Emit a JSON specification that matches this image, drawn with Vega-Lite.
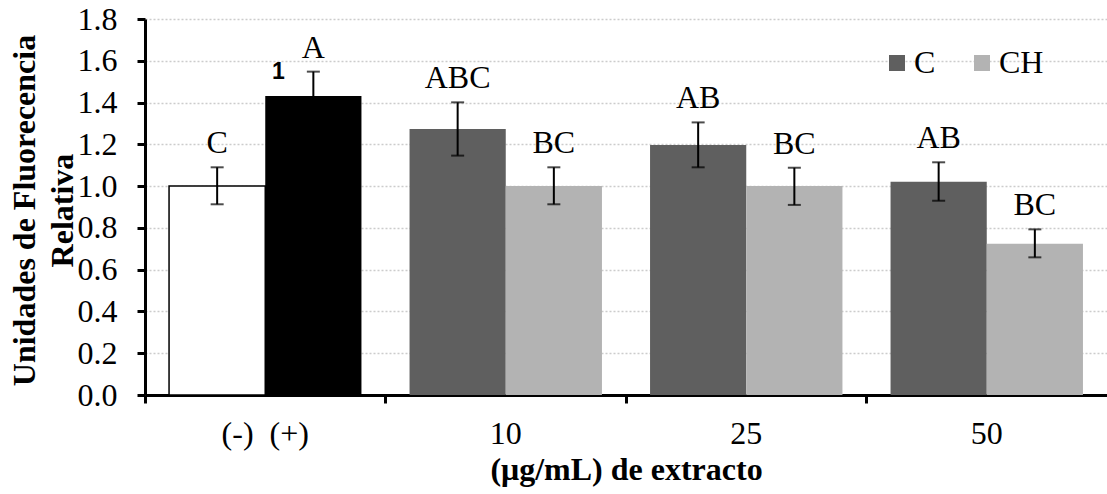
{
  "$schema": "https://vega.github.io/schema/vega-lite/v6.json",
  "width": 962,
  "height": 376,
  "autosize": "none",
  "padding": {"left": 145, "top": 19, "right": 0, "bottom": 99},
  "background": "white",
  "config": {
    "view": {"stroke": null},
    "font": "Liberation Serif",
    "axis": {"labelFont": "Liberation Serif", "titleFont": "Liberation Serif", "labelColor": "black", "titleColor": "black"}
  },
  "data": {
    "values": [
      {"dosis": "(-)\u00a0\u00a0(+)", "pos": "L", "grupo": "(-)", "valor": 1.0, "lo": 0.913, "hi": 1.09, "letra": "C", "nota": ""},
      {"dosis": "(-)\u00a0\u00a0(+)", "pos": "R", "grupo": "(+)", "valor": 1.431, "lo": 1.325, "hi": 1.548, "letra": "A", "nota": "1"},
      {"dosis": "10", "pos": "L", "grupo": "C", "valor": 1.273, "lo": 1.146, "hi": 1.401, "letra": "ABC", "nota": ""},
      {"dosis": "10", "pos": "R", "grupo": "CH", "valor": 1.0, "lo": 0.913, "hi": 1.09, "letra": "BC", "nota": ""},
      {"dosis": "25", "pos": "L", "grupo": "C", "valor": 1.197, "lo": 1.09, "hi": 1.305, "letra": "AB", "nota": ""},
      {"dosis": "25", "pos": "R", "grupo": "CH", "valor": 1.0, "lo": 0.91, "hi": 1.088, "letra": "BC", "nota": ""},
      {"dosis": "50", "pos": "L", "grupo": "C", "valor": 1.021, "lo": 0.93, "hi": 1.114, "letra": "AB", "nota": ""},
      {"dosis": "50", "pos": "R", "grupo": "CH", "valor": 0.724, "lo": 0.659, "hi": 0.793, "letra": "BC", "nota": ""}
    ]
  },
  "encoding": {
    "x": {
      "field": "dosis", "type": "nominal", "sort": null,
      "scale": {"paddingInner": 0, "paddingOuter": 0},
      "axis": {
        "title": "(μg/mL) de extracto",
        "titleFontSize": 32, "titleFontWeight": "bold",
        "titleBaseline": "alphabetic", "titleY": 84,
        "labelAngle": 0, "labelFontSize": 32, "labelBaseline": "alphabetic",
        "labelPadding": 40, "tickSize": 8, "tickWidth": 3, "tickColor": "black",
        "bandPosition": 0, "domainColor": "black", "domainWidth": 3, "grid": false
      }
    },
    "xOffset": {"field": "pos", "type": "nominal", "scale": {"paddingInner": 0, "paddingOuter": 0.25}}
  },
  "layer": [
    {
      "mark": {"type": "bar", "stroke": "black"},
      "encoding": {
        "y": {
          "field": "valor", "type": "quantitative",
          "scale": {"domain": [0, 1.8], "nice": false},
          "axis": {
            "title": ["Unidades de Fluorecencia", "Relativa"],
            "titleFontSize": 32, "titleFontWeight": "bold", "titleLineHeight": 38,
            "titleBaseline": "alphabetic", "titleX": -111, "titleY": 191, "titleAngle": -90,
            "values": [0, 0.2, 0.4, 0.6, 0.8, 1.0, 1.2, 1.4, 1.6, 1.8],
            "format": ".1f", "labelFontSize": 32, "labelPadding": 20,
            "tickSize": 8, "tickWidth": 3, "tickColor": "black",
            "domainColor": "black", "domainWidth": 3,
            "grid": true, "gridColor": "#cccccc", "gridDash": [2, 2], "gridWidth": 1.5
          }
        },
        "color": {
          "field": "grupo", "type": "nominal",
          "scale": {"domain": ["(-)", "(+)", "C", "CH"], "range": ["#ffffff", "#000000", "#5f5f5f", "#b3b3b3"]},
          "legend": {
            "values": ["C", "CH"], "title": null, "orient": "none", "direction": "horizontal",
            "legendX": 736, "legendY": 28, "padding": 0,
            "symbolType": "square", "symbolSize": 256, "symbolStrokeWidth": 0,
            "labelFont": "Liberation Serif", "labelFontSize": 32, "labelOffset": 1, "columnPadding": 30
          }
        },
        "strokeWidth": {"condition": {"test": "datum.grupo === '(-)'", "value": 1.5}, "value": 0}
      }
    },
    {
      "mark": {"type": "rule", "color": "black", "strokeWidth": 2},
      "encoding": {
        "y": {"field": "lo", "type": "quantitative"},
        "y2": {"field": "hi"}
      }
    },
    {
      "mark": {"type": "tick", "color": "black", "thickness": 2, "size": 13, "orient": "horizontal"},
      "encoding": {"y": {"field": "hi", "type": "quantitative"}}
    },
    {
      "mark": {"type": "tick", "color": "black", "thickness": 2, "size": 13, "orient": "horizontal"},
      "encoding": {"y": {"field": "lo", "type": "quantitative"}}
    },
    {
      "mark": {"type": "text", "font": "Liberation Serif", "fontSize": 32, "baseline": "alphabetic", "dy": -14, "color": "black"},
      "encoding": {
        "y": {"field": "hi", "type": "quantitative"},
        "text": {"field": "letra"}
      }
    },
    {
      "mark": {"type": "text", "font": "Liberation Sans", "fontSize": 23, "fontWeight": "bold", "baseline": "alphabetic", "dx": -35, "dy": 7, "color": "black"},
      "encoding": {
        "y": {"field": "hi", "type": "quantitative"},
        "text": {"field": "nota"}
      }
    }
  ]
}
